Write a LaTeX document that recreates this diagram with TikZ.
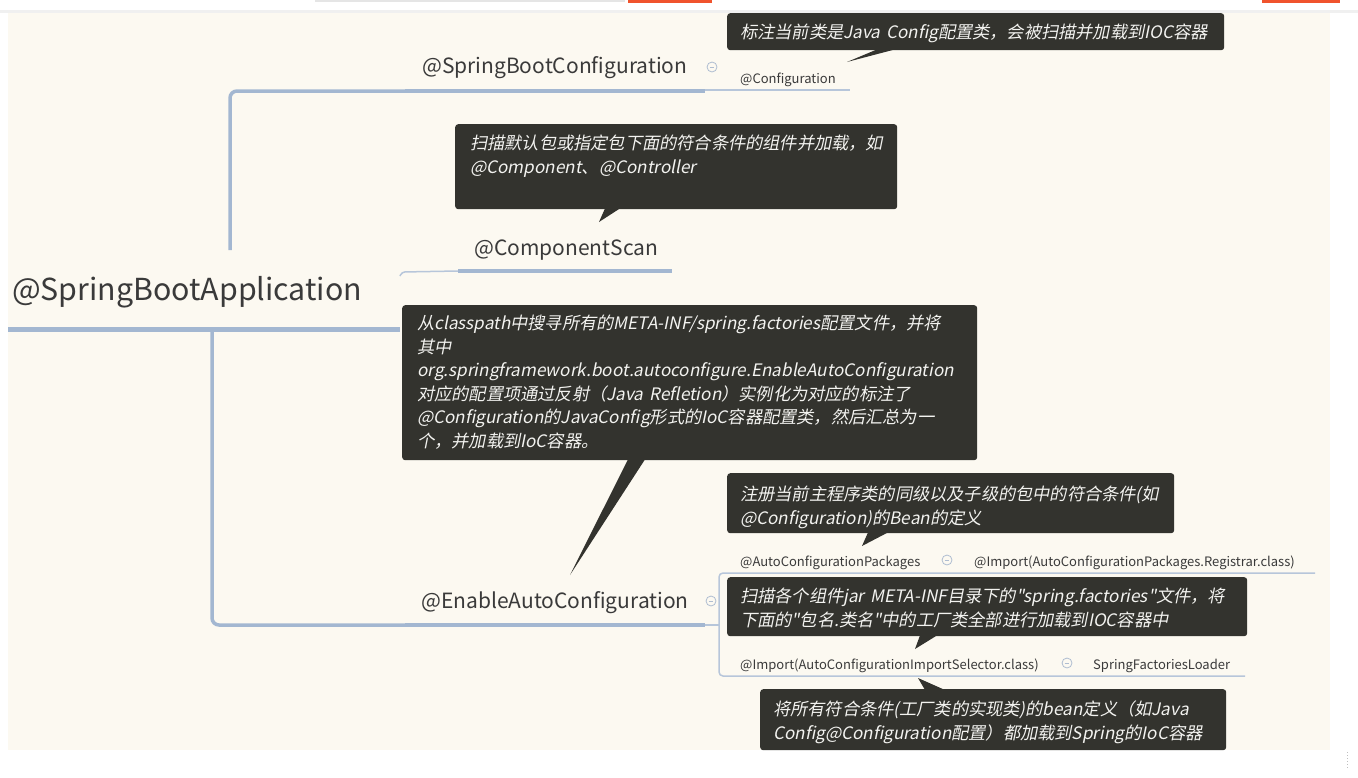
\documentclass[tikz,border=0pt]{standalone}
\usepackage{fontspec}
\setmainfont{Noto Sans CJK SC}
\newfontfamily\tipfont[FakeSlant=0.2]{Noto Sans CJK SC}
\usetikzlibrary{positioning, calc}
\definecolor{mapCream}{HTML}{FCF9F1}
\definecolor{mapLine}{HTML}{A3B7D1}
\definecolor{mapLineLight}{HTML}{B7C6DA}
\definecolor{mapText}{HTML}{3A3A3A}
\definecolor{tipDark}{HTML}{33332E}
\definecolor{tipText}{HTML}{F3F3F0}
\definecolor{foldGray}{HTML}{AFBDD1}
\definecolor{chromeRed}{HTML}{F0532D}

\begin{document}
\begin{tikzpicture}[x=1pt, y=-1pt,
  roottopic/.style={anchor=base west, inner sep=0pt, text=mapText,
              font=\fontsize{30.3}{36}\selectfont},
  topic/.style={anchor=base west, inner sep=0pt, text=mapText,
              font=\fontsize{21}{25}\selectfont},
  subtopic/.style={anchor=base west, inner sep=0pt, text=mapText,
              font=\fontsize{13}{16}\selectfont},
  tip/.style={anchor=north west, fill=tipDark, text=tipText, rounded corners=3pt,
              align=left, inner ysep=0pt, inner xsep=13pt,
              font=\tipfont\fontsize{17.2}{23.5}\selectfont},
  pointer/.style={fill=tipDark},
  trunk/.style={draw=mapLine, line width=3.5pt, rounded corners=7pt},
  bar/.style={draw=mapLine, line width=4pt},
  twig/.style={draw=mapLineLight, line width=1.5pt, rounded corners=4pt},
  fold/.style={circle, draw=foldGray, line width=0.8pt, minimum size=10pt, inner sep=0pt,
              path picture={\draw[foldGray, line width=0.8pt]
                ([xshift=-2.4pt]path picture bounding box.center) --
                ([xshift=2.4pt]path picture bounding box.center);}},
]
% --- page and canvas ---
\useasboundingbox (0,0) rectangle (1358,777);
\fill[white] (0,0) rectangle (1358,777);
\fill[black!6] (0,10) rectangle (1358,13);
\fill[mapCream] (8,13) rectangle (1330,750);
\fill[black!10] (315,0) rectangle (625,1.5);
\fill[chromeRed] (628,0) rectangle (712,3);
\fill[chromeRed] (1262,0) rectangle (1340,3);
\draw[black!25, dotted, line width=1pt] (1347,752) -- (1347,768);

% --- topics ---
\node[roottopic] (app) at (12,300) {@SpringBootApplication};
\node[topic] (bootcfg) at (422,73)  {@SpringBootConfiguration};
\node[topic] (scan)    at (474,255) {@ComponentScan};
\node[topic] (enable)  at (421,608) {@EnableAutoConfiguration};

\node[subtopic] (cfg)      at (740,83)   {@Configuration};
\node[subtopic] (pkgs)     at (740,566)  {@AutoConfigurationPackages};
\node[subtopic] (registrar) at (974,566) {@Import(AutoConfigurationPackages.Registrar.class)};
\node[subtopic] (selector) at (740,669)  {@Import(AutoConfigurationImportSelector.class)};
\node[subtopic] (loader)   at (1093,669) {SpringFactoriesLoader};

\node[fold] (foldA) at (712,67)  {};
\node[fold] (foldB) at (711,601) {};
\node[fold] (foldC) at (947,560) {};
\node[fold] (foldD) at (1067,663) {};

% --- branches ---
\coordinate (appEnd) at (400,329);
\draw[bar, line width=5pt] (8,329) -- (appEnd);
\draw[trunk] (230,250) |- (405,91);
\draw[bar] (405,91) -- (705,91);
\draw[twig] (705,90) -- (850,90);

\draw[twig, rounded corners=3pt] (400,276) -- (402,272) -- (458,271);
\draw[bar] (458,271) -- (672,271);

\draw[trunk] (212,331) |- (405,625);
\draw[bar] (405,625) -- (705,625);
\draw[twig] (705,625) -- (719,625);
\draw[twig] (1315,573) -| (719,625) |- (1245,676);

% --- callouts ---
\node[tip, text width=471pt, text height=25.5pt, text depth=11.5pt] (tipConfig) at (727,13)
  {标注当前类是Java Config配置类，会被扫描并加载到IOC容器};
\fill[pointer] ($(tipConfig.south west)+(150,-1)$) -- (847,62) -- ($(tipConfig.south west)+(168,-1)$) -- cycle;

\node[tip, inner xsep=15pt, text width=412pt, text height=25.5pt, text depth=59.5pt] (tipScan) at (455,124)
  {扫描默认包或指定包下面的符合条件的组件并加载，如\\@Component、@Controller};
\fill[pointer] ($(tipScan.south west)+(150,-1)$) -- (599,222) -- ($(tipScan.south west)+(165,-1)$) -- cycle;

\node[tip, inner xsep=15pt, text width=545pt, text height=24.5pt, text depth=130.5pt] (tipFactories) at (402,305)
  {从classpath中搜寻所有的META-INF/spring.factories配置文件，并将\\
   其中\\
   org.springframework.boot.autoconfigure.EnableAutoConfiguration\\
   对应的配置项通过反射（Java Refletion）实例化为对应的标注了\\
   @Configuration的JavaConfig形式的IoC容器配置类，然后汇总为一\\
   个，并加载到IoC容器。};
\fill[pointer] ($(tipFactories.south west)+(226,-1)$) -- (570,575) -- ($(tipFactories.south west)+(243,-1)$) -- cycle;

\node[tip, text width=421pt, text height=27.5pt, text depth=32.5pt] (tipPackages) at (727,473)
  {注册当前主程序类的同级以及子级的包中的符合条件(如\\@Configuration)的Bean的定义};
\fill[pointer] ($(tipPackages.south west)+(141,-1)$) -- (862,546) -- ($(tipPackages.south west)+(161,-1)$) -- cycle;

\node[tip, text width=494pt, text height=25.5pt, text depth=33.5pt] (tipLoader) at (727,577)
  {扫描各个组件jar META-INF目录下的"spring.factories"文件，将\\下面的"包名.类名"中的工厂类全部进行加载到IOC容器中};
\fill[pointer] ($(tipLoader.south west)+(193,-1)$) -- (915,649) -- ($(tipLoader.south west)+(210,-1)$) -- cycle;

\node[tip, text width=440pt, text height=26.5pt, text depth=34.5pt] (tipBeans) at (760,689)
  {将所有符合条件(工厂类的实现类)的bean定义（如Java\\Config@Configuration配置）都加载到Spring的IoC容器};
\fill[pointer] ($(tipBeans.north west)+(165,1)$) -- (918,678) -- ($(tipBeans.north west)+(185,1)$) -- cycle;
\end{tikzpicture}
\end{document}
